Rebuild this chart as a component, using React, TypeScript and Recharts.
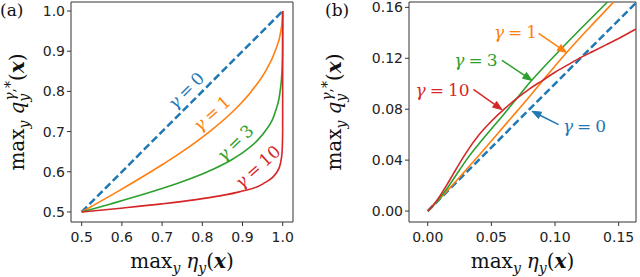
import React from 'react';
import { LineChart, Line, XAxis, YAxis, ReferenceArea, ReferenceLine, ReferenceDot } from 'recharts';

const BLUE = '#1f77b4';
const ORANGE = '#ff7f0e';
const GREEN = '#2ca02c';
const RED = '#d62728';

// panel (a): binary case, max eta vs max q
const etaA0 = [0.5, 1.0];
const qA0 = [0.5, 1.0];
const etaA1 = [0.5, 0.588, 0.672, 0.704, 0.75, 0.818, 0.876, 0.922, 0.957, 0.981, 0.9953, 0.99923, 1.0];
const qA1 = [0.5, 0.55, 0.6, 0.62, 0.65, 0.7, 0.75, 0.8, 0.85, 0.9, 0.95, 0.98, 1.0];
const etaA3 = [0.5, 0.572, 0.674, 0.7494, 0.813, 0.8731, 0.904, 0.9389, 0.9557, 0.9818, 0.9935, 0.9982, 0.99967, 1.0];
const qA3 = [0.5, 0.52, 0.55, 0.575, 0.6, 0.63, 0.65, 0.68, 0.7, 0.75, 0.8, 0.85, 0.9, 1.0];
const etaA10 = [0.5, 0.6036, 0.6987, 0.7796, 0.8436, 0.8918, 0.9509, 0.9861, 0.9942, 0.9985, 0.99986, 1.0];
const qA10 = [0.5, 0.51, 0.52, 0.53, 0.54, 0.55, 0.57, 0.6, 0.62, 0.65, 0.7, 1.0];

const xTicksA = [0.5, 0.6, 0.7, 0.8, 0.9, 1.0];
const yTicksA = [0.5, 0.6, 0.7, 0.8, 0.9, 1.0];
const xDomainA = [0.4734, 1.0256];
const yDomainA = [0.475, 1.0224];

// panel (b): small max eta
const etaB0 = [0, 0.17];
const qB0 = [0, 0.17];
const etaB = [0, 0.005, 0.01, 0.015, 0.02, 0.025, 0.03, 0.04, 0.05, 0.06, 0.07, 0.08, 0.09, 0.1, 0.11, 0.12, 0.13, 0.14, 0.15, 0.16, 0.17];
const qB1 = [0, 0.005, 0.0102, 0.0155, 0.021, 0.0265, 0.0322, 0.0435, 0.055, 0.0667, 0.0783, 0.09, 0.102, 0.114, 0.1255, 0.1365, 0.1472, 0.1578, 0.1683, 0.1788, 0.1893];
const qB3 = [0, 0.005, 0.0108, 0.0175, 0.0248, 0.0322, 0.0396, 0.0525, 0.0645, 0.0763, 0.0885, 0.1008, 0.1118, 0.1224, 0.1328, 0.143, 0.153, 0.163, 0.173, 0.183, 0.193];
const qB10 = [0, 0.0055, 0.0125, 0.0205, 0.029, 0.0375, 0.0455, 0.0595, 0.0705, 0.08, 0.0885, 0.096, 0.1025, 0.109, 0.1148, 0.1205, 0.1255, 0.1305, 0.1355, 0.141, 0.146];

const xTicksB = [0, 0.05, 0.1, 0.15];
const yTicksB = [0, 0.04, 0.08, 0.12, 0.16];
const xDomainB = [-0.0147, 0.1636];
const yDomainB = [-0.0086, 0.1642];

// annotations
const labelsA = [
  { g: '0', color: BLUE, eta: 0.761, q: 0.801, rot: -45 },
  { g: '1', color: ORANGE, eta: 0.825, q: 0.744, rot: -42 },
  { g: '3', color: GREEN, eta: 0.883, q: 0.671, rot: -44 },
  { g: '10', color: RED, eta: 0.939, q: 0.611, rot: -42 },
];
const labelsB = [
  { g: '1', color: ORANGE, eta: 0.069, q: 0.1403, fromEta: 0.0871, fromQ: 0.1395, toEta: 0.109, toQ: 0.1245 },
  { g: '3', color: GREEN, eta: 0.0379, q: 0.1176, fromEta: 0.0583, fromQ: 0.1184, toEta: 0.0819, toQ: 0.1026 },
  { g: '10', color: RED, eta: 0.0117, q: 0.0947, fromEta: 0.0359, fromQ: 0.0955, toEta: 0.0583, toQ: 0.0797 },
  { g: '0', color: BLUE, eta: 0.1232, q: 0.0659, fromEta: 0.1028, fromQ: 0.0679, toEta: 0.0819, toQ: 0.0784 },
];

const toRows = (xs: number[], ys: number[]) => xs.map((eta, i) => ({ eta, q: ys[i] }));

const SERIF = 'DejaVu Serif';
const SANS = 'DejaVu Sans';
const tickStyle = { fontSize: 14, fill: '#222', fontFamily: SANS };

const GammaText = ({ g }: { g: string }) => (
  <>
    <tspan fontStyle="italic">γ</tspan>
    <tspan dx={4}>=</tspan>
    <tspan dx={4}>{g}</tspan>
  </>
);

const rotatedLabel = (g: string, color: string, rot: number) => (p: any) => (
  <text
    x={p.cx}
    y={p.cy}
    dy="0.3em"
    textAnchor="middle"
    transform={`rotate(${rot} ${p.cx} ${p.cy})`}
    fill={color}
    fontFamily={SERIF}
    fontSize={17}
  >
    <GammaText g={g} />
  </text>
);

const arrowShape = (color: string) => (p: any) => {
  const { x1, y1, x2, y2 } = p;
  const ang = Math.atan2(y2 - y1, x2 - x1);
  const len = 9;
  const half = 3.5;
  const bx = x2 - len * Math.cos(ang);
  const by = y2 - len * Math.sin(ang);
  const nx = -Math.sin(ang) * half;
  const ny = Math.cos(ang) * half;
  return (
    <g>
      <line x1={x1} y1={y1} x2={bx} y2={by} stroke={color} strokeWidth={1.5} />
      <polygon points={`${x2},${y2} ${bx + nx},${by + ny} ${bx - nx},${by - ny}`} fill={color} stroke={color} strokeWidth={1} />
    </g>
  );
};

const xLabel = (props: any) => {
  const vb = props.viewBox;
  const cx = vb.x + vb.width / 2;
  const y = vb.y + 46;
  return (
    <text x={cx} y={y} textAnchor="middle" fontFamily={SERIF} fontSize={20} fill="#111">
      <tspan>max</tspan>
      <tspan fontSize={14} fontStyle="italic" dy={5}>y</tspan>
      <tspan fontStyle="italic" dy={-5} dx={6}>η</tspan>
      <tspan fontSize={14} fontStyle="italic" dy={5}>y</tspan>
      <tspan dy={-5}>(</tspan>
      <tspan fontStyle="italic" fontWeight="bold">x</tspan>
      <tspan>)</tspan>
    </text>
  );
};

const yLabel = (gap: number) => (props: any) => {
  const vb = props.viewBox;
  const x = vb.x + vb.width - gap;
  const y = vb.y + vb.height / 2;
  return (
    <text x={x} y={y} textAnchor="middle" transform={`rotate(-90 ${x} ${y})`} fontFamily={SERIF} fontSize={20} fill="#111">
      <tspan>max</tspan>
      <tspan fontSize={14} fontStyle="italic" dy={5}>y</tspan>
      <tspan fontStyle="italic" dy={-5} dx={6}>q</tspan>
      <tspan fontSize={14} fontStyle="italic" dy={5}>y</tspan>
      <tspan fontSize={14} fontStyle="italic" dy={-14} dx={-7}>γ</tspan>
      <tspan fontSize={14}>,*</tspan>
      <tspan dy={9}>(</tspan>
      <tspan fontStyle="italic" fontWeight="bold">x</tspan>
      <tspan>)</tspan>
    </text>
  );
};

const PanelA = () => (
  <LineChart width={320} height={277} margin={{ top: 2, right: 27, bottom: 25, left: 21 }}>
    <XAxis
      type="number"
      dataKey="eta"
      domain={xDomainA}
      ticks={xTicksA}
      interval={0}
      allowDataOverflow
      tickFormatter={(v: number) => v.toFixed(1)}
      tick={tickStyle}
      tickSize={4}
      tickMargin={6}
      tickLine={{ stroke: '#333' }}
      axisLine={false}
      height={30}
      label={{ content: xLabel }}
    />
    <YAxis
      type="number"
      domain={yDomainA}
      ticks={yTicksA}
      interval={0}
      allowDataOverflow
      tickFormatter={(v: number) => v.toFixed(1)}
      tick={tickStyle}
      tickSize={4}
      tickMargin={2}
      tickLine={{ stroke: '#333' }}
      axisLine={false}
      width={50}
      label={{ content: yLabel(47.5) }}
    />
    <Line data={toRows(etaA0, qA0)} dataKey="q" stroke={BLUE} strokeWidth={2.5} strokeDasharray="7.5 3.5" dot={false} activeDot={false} isAnimationActive={false} />
    <Line data={toRows(etaA1, qA1)} dataKey="q" type="monotone" stroke={ORANGE} strokeWidth={1.6} dot={false} activeDot={false} isAnimationActive={false} />
    <Line data={toRows(etaA3, qA3)} dataKey="q" type="monotone" stroke={GREEN} strokeWidth={1.6} dot={false} activeDot={false} isAnimationActive={false} />
    <Line data={toRows(etaA10, qA10)} dataKey="q" type="monotone" stroke={RED} strokeWidth={1.6} dot={false} activeDot={false} isAnimationActive={false} />
    {labelsA.map((l) => (
      <ReferenceDot key={l.g} x={l.eta} y={l.q} r={0} ifOverflow="visible" shape={rotatedLabel(l.g, l.color, l.rot)} />
    ))}
    <ReferenceArea x1={xDomainA[0]} x2={xDomainA[1]} y1={yDomainA[0]} y2={yDomainA[1]} fill="none" stroke="#333" strokeWidth={1} ifOverflow="visible" />
  </LineChart>
);

const PanelB = () => (
  <LineChart width={320} height={277} margin={{ top: 2, right: 4, bottom: 25, left: 39 }}>
    <XAxis
      type="number"
      dataKey="eta"
      domain={xDomainB}
      ticks={xTicksB}
      interval={0}
      allowDataOverflow
      tickFormatter={(v: number) => v.toFixed(2)}
      tick={tickStyle}
      tickSize={4}
      tickMargin={6}
      tickLine={{ stroke: '#333' }}
      axisLine={false}
      height={30}
      label={{ content: xLabel }}
    />
    <YAxis
      type="number"
      domain={yDomainB}
      ticks={yTicksB}
      interval={0}
      allowDataOverflow
      tickFormatter={(v: number) => v.toFixed(2)}
      tick={tickStyle}
      tickSize={4}
      tickMargin={2}
      tickLine={{ stroke: '#333' }}
      axisLine={false}
      width={50}
      label={{ content: yLabel(68) }}
    />
    <Line data={toRows(etaB0, qB0)} dataKey="q" stroke={BLUE} strokeWidth={2.5} strokeDasharray="7.5 3.5" dot={false} activeDot={false} isAnimationActive={false} />
    <Line data={toRows(etaB, qB1)} dataKey="q" type="monotone" stroke={ORANGE} strokeWidth={1.6} dot={false} activeDot={false} isAnimationActive={false} />
    <Line data={toRows(etaB, qB3)} dataKey="q" type="monotone" stroke={GREEN} strokeWidth={1.6} dot={false} activeDot={false} isAnimationActive={false} />
    <Line data={toRows(etaB, qB10)} dataKey="q" type="monotone" stroke={RED} strokeWidth={1.6} dot={false} activeDot={false} isAnimationActive={false} />
    {labelsB.map((l) => (
      <ReferenceLine
        key={'a' + l.g}
        segment={[{ x: l.fromEta, y: l.fromQ }, { x: l.toEta, y: l.toQ }]}
        ifOverflow="visible"
        shape={arrowShape(l.color)}
      />
    ))}
    {labelsB.map((l) => (
      <ReferenceDot key={'t' + l.g} x={l.eta} y={l.q} r={0} ifOverflow="visible" shape={rotatedLabel(l.g, l.color, 0)} />
    ))}
    <ReferenceArea x1={xDomainB[0]} x2={xDomainB[1]} y1={yDomainB[0]} y2={yDomainB[1]} fill="none" stroke="#333" strokeWidth={1} ifOverflow="visible" />
  </LineChart>
);

const tagStyle: React.CSSProperties = {
  position: 'absolute',
  top: 0,
  fontFamily: SERIF,
  fontSize: 17,
  lineHeight: '21px',
  color: '#111',
};

export default function App() {
  return (
    <div style={{ position: 'absolute', left: 0, top: 0, width: 640, height: 277, background: '#fff', overflow: 'hidden' }}>
      <div style={{ position: 'absolute', left: 0, top: 0 }}>
        <PanelA />
      </div>
      <div style={{ position: 'absolute', left: 320, top: 0 }}>
        <PanelB />
      </div>
      <div style={{ ...tagStyle, left: 0 }}>(a)</div>
      <div style={{ ...tagStyle, left: 325 }}>(b)</div>
    </div>
  );
}
